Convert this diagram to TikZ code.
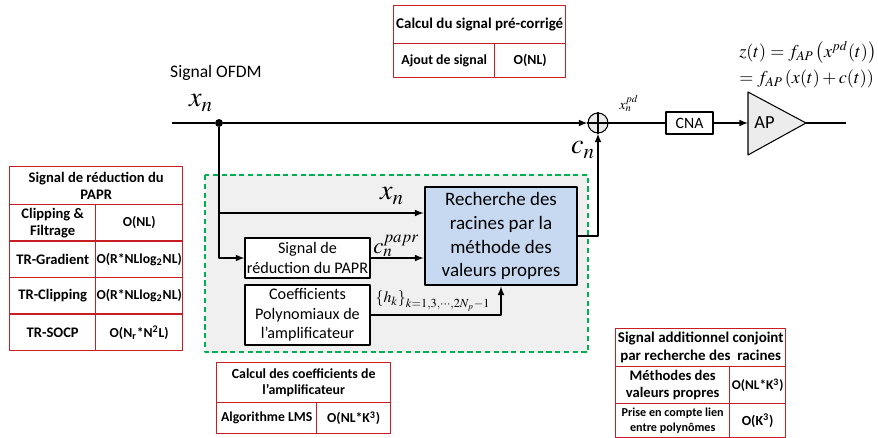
\documentclass[tikz,border=0pt]{standalone}
\usepackage{mathptmx}
\usepackage[no-math]{fontspec}
\setmainfont{Carlito}
\usetikzlibrary{calc}
\definecolor{tabred}{RGB}{200,30,35}
\definecolor{zonegreen}{RGB}{0,176,80}
\definecolor{rechblue}{RGB}{198,217,241}
\newcommand{\fsz}[1]{\fontsize{#1}{1.2\dimexpr#1pt\relax}\selectfont}

\begin{document}
\begin{tikzpicture}[x=0.02cm, y=-0.02cm, line join=round, >=latex, font=\fsz{10},
		sz/.style 2 args={minimum width=#1*0.02cm, minimum height=#2*0.02cm},
		cell/.style 2 args={draw=tabred, line width=0.8pt, anchor=north west, align=center, inner xsep=0.3pt, inner ysep=1pt, sz={#1}{#2}, font=\fsz{8.3}\bfseries},
		tf/.style={font=\fsz{#1}\bfseries},
		blk/.style={draw, fill=white, align=center, inner sep=1pt, line width=0.6pt},
		wire/.style={line width=0.7pt},
		lbl/.style={inner sep=0pt}]
	\useasboundingbox (0,0) rectangle (878,438);
	% zone de calcul
	\draw[zonegreen, dash pattern=on 3pt off 2pt, line width=0.9pt, fill=gray!12] (205,175) rectangle (588,352);
	% blocs
	\node[blk, sz={125}{40}, font=\fsz{9.2}] (papr) at (307.5,258) {Signal de\\réduction du PAPR};
	\node[blk, sz={125}{60}, font=\fsz{9.2}] (coef) at (307.5,315) {Coefficients\\Polynomiaux de\\l’amplificateur};
	\node[blk, sz={152}{98}, fill=rechblue, line width=1.6pt, font=\fontsize{10.8}{13.6}\selectfont] (rech) at (501,236) {Recherche des\\racines par la\\méthode des\\valeurs propres};
	\node[blk, sz={47}{22}, font=\fsz{9}] (cna) at (689.5,123) {CNA};
	\node[draw, circle, fill=gray!15, line width=0.6pt, minimum size=20*0.02cm, inner sep=0pt] (sum) at (598,123) {};
	\draw[line width=0.6pt] (sum.north) -- (sum.south) (sum.west) -- (sum.east);
	\draw[line width=0.6pt, fill=gray!15] (748,92) coordinate (ap-top) -- (806,123) coordinate (ap-out) -- (748,155) coordinate (ap-bot) -- cycle;
	\coordinate (ap-in) at (748,123);
	\node[lbl, anchor=west, font=\fsz{10.5}] (ap) at (754,123) {AP};
	% liaisons
	\coordinate (in) at (172,123);
	\coordinate (out) at (846,123);
	\node[circle, fill, inner sep=0pt, minimum size=4.5pt] (split) at (219,123) {};
	\coordinate (br) at (219,213);
	\draw[wire] (in) -- (split);
	\draw[wire,->] (split) -- (sum.west);
	\draw[wire] (sum.east) -- (cna.west);
	\draw[wire,->] (cna.east) -- (ap-in);
	\draw[wire] (ap-out) -- (out);
	\draw[wire,->] (split) |- (papr.west);
	\draw[wire,->] (br) -- (br -| rech.west);
	\draw[wire,->] (papr.east) -- (papr.east -| rech.west);
	\draw[wire,->] (coef.east) -| (rech.south);
	\draw[wire,->] (rech.east) -| (sum.south);
	% textes
	\node (ofdm) at (216,73) {Signal OFDM};
	\node[lbl, font=\fsz{16}] (xin) at (201,103) {$x_n$};
	\node[lbl, font=\fsz{16}] (xr) at (392,196) {$x_n$};
	\node[lbl, anchor=west, font=\fsz{13}] (cpapr) at (373,246) {$c_n^{papr}$};
	\node[lbl, font=\fsz{9}] (hk) at (433,301) {$\left\{h_k\right\}_{k=1,3,\cdots,2N_p-1}$};
	\node[lbl, font=\fsz{16}] (cn) at (583,150) {$c_n$};
	\node[lbl, font=\fsz{8}] (xpd) at (629,103) {$x_n^{pd}$};
	\node[lbl, anchor=west, align=left, font=\fontsize{10.3}{15}\selectfont] (eq) at (739,65) {$z(t)=f_{AP}\left(x^{pd}(t)\right)$\\$=f_{AP}\left(x(t)+c(t)\right)$};
	% tableaux de complexite
	\node[cell={172}{38}, tf=8.5] (pc-h) at (393,5) {Calcul du signal pré-corrigé};
	\node[cell={101}{34}, tf=7.9] (pc-a) at (393,43) {Ajout de signal};
	\node[cell={71}{34}, tf=7.9] (pc-b) at (494,43) {O(NL)};

	\node[cell={173}{38}] (rp-h) at (9,166) {Signal de réduction du\\PAPR};
	\foreach \y/\a/\b [count=\i] in {204/{Clipping \&\\Filtrage}/{O(NL)},
			240.5/{TR-Gradient}/{O(R*NLlog\textsubscript{2}NL)},
			277/{TR-Clipping}/{O(R*NLlog\textsubscript{2}NL)},
			313.5/{TR-SOCP}/{O(N\textsubscript{r}*N\textsuperscript{2}L)}} {
		\node[cell={86}{36.5}] (rp-a\i) at (9,\y) {\a};
		\node[cell={87}{36.5}, tf=7.8] (rp-b\i) at (95,\y) {\b};
	}

	\node[cell={174}{40}, tf=7.9] (lms-h) at (216,362) {Calcul des coefficients de\\l’amplificateur};
	\node[cell={100}{31}, tf=7.8] (lms-a) at (216,402) {Algorithme LMS};
	\node[cell={74}{31}, tf=7.8] (lms-b) at (316,402) {O(NL*K\textsuperscript{3})};

	\node[cell={170}{38}, tf=8.5] (rc-h) at (615,328) {Signal additionnel conjoint\\par recherche des\ \ racines};
	\node[cell={114}{37}] (rc-a1) at (615,366) {Méthodes des\\valeurs propres};
	\node[cell={56}{37}, tf=7.6] (rc-b1) at (729,366) {O(NL*K\textsuperscript{3})};
	\node[cell={114}{34}, tf=6.9] (rc-a2) at (615,403) {Prise en compte lien\\entre polynômes};
	\node[cell={56}{34}, tf=7.9] (rc-b2) at (729,403) {O(K\textsuperscript{3})};
\end{tikzpicture}
\end{document}
